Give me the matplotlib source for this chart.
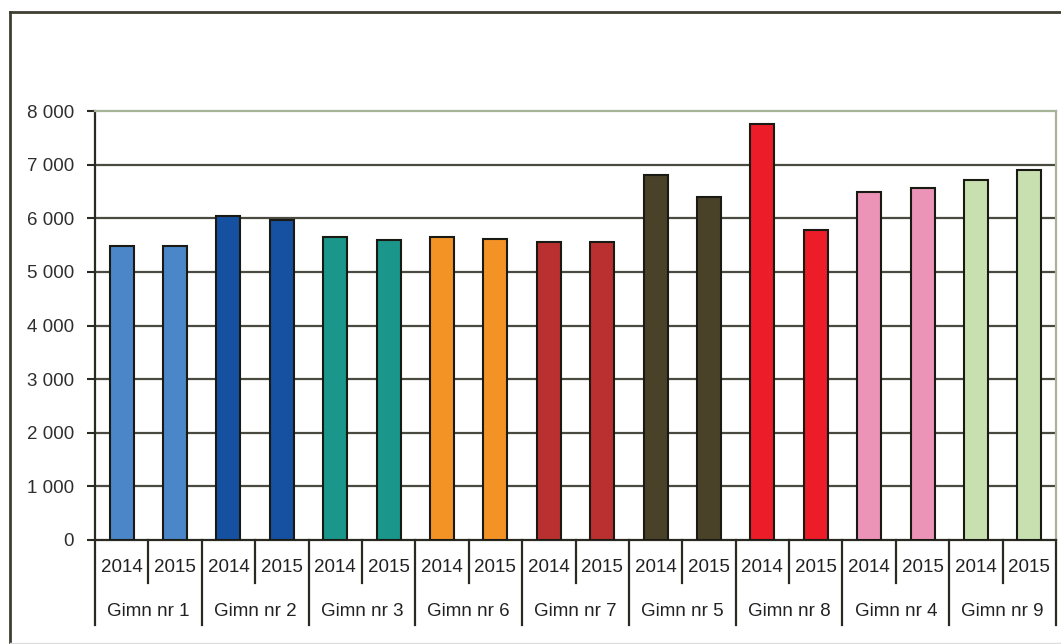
import matplotlib
matplotlib.use("Agg")
import matplotlib.pyplot as plt
from matplotlib.lines import Line2D
from matplotlib.ticker import FuncFormatter
import numpy as np

# data
schools = ["Gimn nr 1", "Gimn nr 2", "Gimn nr 3", "Gimn nr 6", "Gimn nr 7",
           "Gimn nr 5", "Gimn nr 8", "Gimn nr 4", "Gimn nr 9"]
years = ["2014", "2015"]
values_2014 = [5490, 6050, 5650, 5650, 5550, 6800, 7760, 6490, 6720]
values_2015 = [5490, 5970, 5590, 5610, 5550, 6390, 5790, 6560, 6900]
school_colors = ["#4A86C8", "#1650A0", "#1A968A", "#F39325", "#BA3030",
                 "#4A4228", "#EC1C28", "#EC93B8", "#C8E0B0"]
yticks = [0, 1000, 2000, 3000, 4000, 5000, 6000, 7000, 8000]

plt.rcParams['font.family'] = ['Liberation Sans', 'DejaVu Sans']
FS = 13.5

W, H = 1061, 644
fig = plt.figure(figsize=(W / 100, H / 100), dpi=100)
fig.patch.set_facecolor("white")

x0, x1, y0, y1 = 95, 1056, 540, 111
ax = fig.add_axes([x0 / W, 1 - y0 / H, (x1 - x0) / W, (y0 - y1) / H])

# interleave the two years per school
vals = []
cols = []
for a, b, c in zip(values_2014, values_2015, school_colors):
    vals += [a, b]
    cols += [c, c]
xs = np.arange(len(vals))

ax.bar(xs, vals, width=0.45, color=cols, edgecolor="#1a1a14", linewidth=1.5, zorder=3)

ax.set_xlim(-0.5, len(vals) - 0.5)
ax.set_ylim(0, 8000)
ax.set_yticks(yticks)
ax.yaxis.set_major_formatter(FuncFormatter(lambda v, p: f"{int(v):,}".replace(",", " ")))
ax.tick_params(axis="y", length=6, width=1.5, color="#2a2a22", labelsize=FS,
               labelcolor="#2e2e2e", pad=9)
ax.set_xticks([])

for v in yticks[1:-1]:
    ax.axhline(v, color="#4a4a40", linewidth=1.6, zorder=1)

ax.spines["left"].set_color("#2a2a22")
ax.spines["left"].set_linewidth(1.6)
ax.spines["bottom"].set_color("#2a2a22")
ax.spines["bottom"].set_linewidth(1.6)
ax.spines["top"].set_color("#A8B498")
ax.spines["top"].set_linewidth(1.6)
ax.spines["right"].set_color("#A8B498")
ax.spines["right"].set_linewidth(1.6)

# two-level category axis below the plot
tr = ax.get_xaxis_transform()
h = y0 - y1
short_end = -(583 - y0) / h
long_end = -(625 - y0) / h
for i in range(len(vals) + 1):
    end = long_end if i % 2 == 0 else short_end
    ax.add_line(Line2D([i - 0.5, i - 0.5], [0, end], transform=tr, color="#2a2a22",
                       linewidth=1.6, clip_on=False))
for i, x in enumerate(xs):
    ax.text(x, -(568 - y0) / h, years[i % 2], transform=tr, ha="center", va="center",
            fontsize=FS, color="#222222")
for j, name in enumerate(schools):
    ax.text(2 * j + 0.5, -(612 - y0) / h, name, transform=tr, ha="center", va="center",
            fontsize=FS, color="#222222")

# outer chart frame
fig.add_artist(Line2D([10 / W, 10 / W], [1 - 12 / H, 0], transform=fig.transFigure,
                      color="#3e3e32", linewidth=2))
fig.add_artist(Line2D([10 / W, 1], [1 - 12 / H, 1 - 12 / H], transform=fig.transFigure,
                      color="#3e3e32", linewidth=2))
fig.add_artist(Line2D([10 / W, 1], [1 - 643 / H, 1 - 643 / H], transform=fig.transFigure,
                      color="#dddddd", linewidth=1))

fig.savefig("out.png", dpi=100)
plt.close(fig)
